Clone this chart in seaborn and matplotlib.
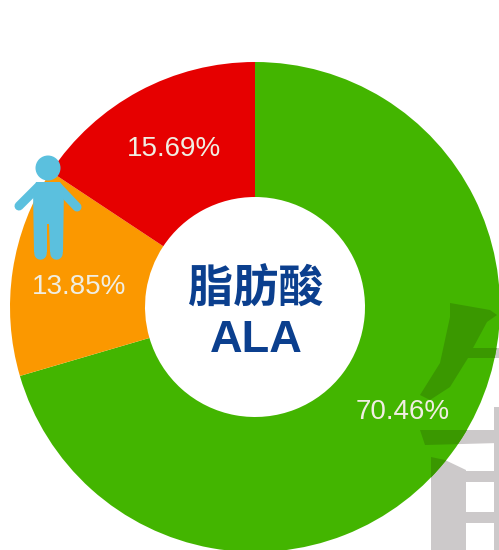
import matplotlib
matplotlib.use('Agg')
import matplotlib.pyplot as plt
import seaborn as sns
from matplotlib.patches import Polygon, Circle

# data
categories = ['green', 'orange', 'red']
values = [70.46, 13.85, 15.69]
colors = ['#43B500', '#FB9800', '#E60000']
center_lines = ['脂肪酸', 'ALA']

sns.set_theme(style='white')
plt.rcParams['font.family'] = ['Liberation Sans', 'DejaVu Sans']

W, H = 499, 550
CX, CY, R = 255, 307, 245


def flip(pts):
    # picture coords (y down) to axes coords
    return [(x, H - y) for x, y in pts]


fig = plt.figure(figsize=(W / 100, H / 100), dpi=100)
ax = fig.add_axes([0, 0, 1, 1])

# watermark behind the ring, shows darker where the ring covers it
watermark = [
    [(450, 303), (490, 310), (497, 315), (487, 322), (473, 348), (499, 348), (499, 358),
     (468, 358), (450, 387), (430, 400), (420, 395), (440, 363), (450, 317)],
    [(420, 430), (499, 430), (499, 443), (425, 445)],
    [(431, 457), (445, 460), (466, 470), (466, 550), (431, 550)],
    [(494, 407), (499, 407), (499, 550), (494, 550)],
    [(466, 471), (499, 471), (499, 482), (466, 482)],
    [(466, 512), (499, 512), (499, 523), (466, 523)],
]
for shape in watermark:
    ax.add_patch(Polygon(flip(shape), closed=True, fc='#CCC9CA', ec='none', zorder=0))

wedges, texts, pcts = ax.pie(
    values,
    colors=sns.color_palette(colors),
    startangle=90,
    counterclock=False,
    center=(CX, H - CY),
    radius=R,
    autopct='%.2f%%',
    pctdistance=0.735,
    wedgeprops={'width': 135, 'linewidth': 0},
    textprops={'color': '#F0EEE2', 'fontsize': 20},
)
# labels sit a little off the radial spot in the original
nudges = [(4, 3), (2, -7), (4, -1)]
for p, (dx, dy) in zip(pcts, nudges):
    x, y = p.get_position()
    p.set_position((x + dx, y + dy))
    p.set_zorder(6)

clip = Circle((CX, H - CY), R, transform=ax.transData)
for shape in watermark:
    dark = Polygon(flip(shape), closed=True, fc='#3A9800', ec='none', zorder=3)
    ax.add_patch(dark)
    dark.set_clip_path(clip)

# person icon
blue = '#5BC0DE'
ax.add_patch(Circle((48, H - 168), 12.5, fc=blue, ec='none', zorder=5))
body = [(36, 182), (60, 182), (64, 188), (63, 252), (50, 252), (49, 224), (47, 224), (47, 252), (34, 252), (33, 190)]
ax.add_patch(Polygon(flip(body), closed=True, fc=blue, ec='none', zorder=5))
for limb, width in [([(38, 187), (19, 206)], 6.5), ([(58, 187), (77, 207)], 6.5),
                    ([(40, 200), (40, 253)], 9), ([(56, 200), (56, 253)], 9)]:
    pts = flip(limb)
    ax.plot([pts[0][0], pts[1][0]], [pts[0][1], pts[1][1]], color=blue, lw=width,
            solid_capstyle='round', zorder=5)

# centre text
navy = '#0B3F8E'
ax.text(256, H - 290, center_lines[0], family=['Noto Sans CJK SC', 'DejaVu Sans'], fontsize=32.5, fontweight='bold',
        color=navy, ha='center', va='center', zorder=6)
ax.text(256, H - 340, center_lines[1], fontsize=32.5, fontweight='bold', color=navy, ha='center', va='center', zorder=6)

ax.set_xlim(0, W)
ax.set_ylim(0, H)
ax.set_aspect('equal')
ax.axis('off')
fig.savefig('out.png', dpi=100)
